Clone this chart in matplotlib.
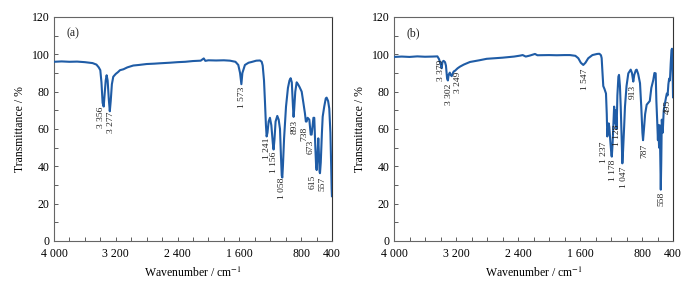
import matplotlib
matplotlib.use("Agg")
import matplotlib.pyplot as plt
from matplotlib.ticker import FixedLocator, FixedFormatter, MultipleLocator

plt.rcParams['font.family'] = ['Liberation Serif', 'DejaVu Serif']
plt.rcParams['mathtext.fontset'] = 'stix'

# --- spectrum (a) ---
wn_a = [4000, 3900, 3800, 3700, 3600, 3500, 3450, 3420, 3400, 3385, 3370, 3356,
        3345, 3330, 3318, 3305, 3290, 3277, 3265, 3250, 3232, 3200, 3170, 3145,
        3100, 3050, 2973, 2900, 2800, 2700, 2627, 2500, 2400, 2300, 2200, 2100,
        2060, 2040, 2000, 1900, 1800, 1721, 1650, 1613, 1590, 1573, 1560, 1527,
        1480, 1440, 1380, 1332, 1310, 1297, 1280, 1268, 1255, 1246, 1235, 1220,
        1203, 1185, 1165, 1156, 1145, 1130, 1108, 1090, 1073, 1060, 1050, 1043,
        1035, 1020, 995, 970, 950, 935, 920, 905, 897, 890, 875, 857, 840, 820,
        792, 770, 750, 738, 728, 715, 693, 675, 663, 650, 640, 629, 615, 605,
        598, 590, 577, 570, 560, 555, 545, 530, 520, 500, 480, 469, 450, 435,
        420, 410, 404, 400]
tr_a = [96.0, 96.2, 96.0, 96.1, 95.8, 95.3, 94.5, 93.0, 91.5, 85.0, 74.0, 72.0,
        78.0, 86.0, 88.8, 86.0, 76.0, 69.5, 75.0, 84.0, 88.0, 89.5, 90.5, 91.5,
        92.0, 93.0, 94.0, 94.3, 94.8, 95.0, 95.2, 95.5, 95.8, 96.0, 96.4, 96.6,
        97.8, 96.5, 96.8, 96.7, 96.8, 96.6, 96.0, 94.3, 90.0, 84.0, 90.0, 94.3,
        95.5, 95.9, 96.6, 96.7, 96.0, 94.0, 86.0, 75.0, 62.0, 56.0, 58.0, 64.0,
        66.0, 62.0, 52.0, 49.0, 54.0, 64.0, 67.0, 65.0, 60.0, 45.0, 35.0, 34.0,
        40.0, 55.0, 72.0, 82.0, 86.0, 87.2, 85.0, 72.0, 66.5, 70.0, 80.0, 85.0,
        84.0, 82.5, 80.0, 74.0, 68.4, 64.0, 64.0, 66.0, 65.0, 57.0, 57.0, 62.0,
        66.0, 66.0, 50.0, 40.0, 38.0, 44.0, 55.0, 48.0, 37.0, 36.3, 42.0, 58.0,
        66.6, 72.0, 76.4, 76.8, 75.0, 71.0, 58.0, 40.0, 28.0, 24.0]

# --- spectrum (b) ---
wn_b = [4000, 3900, 3800, 3700, 3600, 3500, 3440, 3420, 3400, 3385, 3375, 3360,
        3342, 3330, 3315, 3305, 3295, 3280, 3270, 3256, 3245, 3230, 3213, 3180,
        3149, 3100, 3020, 2900, 2804, 2600, 2450, 2374, 2340, 2300, 2250, 2181,
        2150, 2000, 1900, 1800, 1730, 1660, 1622, 1590, 1558, 1530, 1494, 1440,
        1380, 1350, 1330, 1321, 1310, 1300, 1285, 1265, 1255, 1248, 1240, 1230,
        1222, 1210, 1195, 1190, 1180, 1170, 1160, 1150, 1140, 1128, 1118, 1105,
        1097, 1085, 1075, 1065, 1054, 1045, 1030, 1020, 1000, 977, 946, 930, 913,
        900, 880, 869, 850, 826, 810, 795, 787, 775, 760, 740, 720, 700, 680,
        655, 640, 624, 615, 603, 595, 590, 580, 572, 565, 558, 552, 545, 533,
        520, 504, 490, 480, 470, 460, 450, 440, 430, 420, 413, 405, 400]
tr_b = [98.6, 98.8, 98.6, 98.9, 98.7, 98.8, 98.9, 97.5, 95.0, 92.5, 96.0, 96.5,
        95.8, 94.0, 87.0, 86.0, 89.0, 90.2, 89.0, 88.3, 89.5, 90.8, 91.2, 92.5,
        93.4, 94.5, 95.9, 96.8, 97.6, 98.2, 98.8, 99.3, 99.6, 98.8, 99.3, 100.2,
        99.5, 99.6, 99.5, 99.6, 99.6, 99.2, 97.9, 95.5, 94.3, 95.5, 97.9, 99.6,
        100.2, 100.3, 99.5, 98.0, 90.0, 83.0, 81.5, 79.0, 68.0, 56.0, 60.0, 63.0,
        61.0, 54.0, 46.0, 45.2, 52.0, 62.0, 72.0, 63.0, 70.0, 60.0, 78.0, 88.0,
        89.0, 83.0, 72.0, 58.0, 41.6, 48.0, 62.0, 72.0, 83.0, 89.8, 91.8, 90.0, 85.4,
        89.0, 91.5, 91.8, 89.5, 84.5, 72.0, 58.0, 54.0, 60.0, 68.0, 73.0, 74.0,
        75.0, 82.0, 86.2, 90.0, 89.8, 75.0, 63.0, 54.0, 62.0, 50.0, 62.0, 46.0,
        27.5, 42.0, 65.0, 58.0, 70.0, 73.8, 77.0, 79.0, 78.0, 84.0, 87.0, 86.0,
        95.0, 102.3, 103.0, 90.0, 77.0]

# peak labels
peaks_a = ["3 356", "3 277", "1 573", "1 241", "1 156", "1 058", "893", "738",
           "673", "615", "557"]
peaks_b = ["3 379", "3 302", "3 249", "1 547", "1 237", "1 178", "1 128",
           "1 047", "913", "787", "558", "495"]

# where the labels sit (wavenumber, top of text)
pos_a = [(3395, 71.8), (3266, 69.3), (1569, 82.7), (1238, 55.2), (1147, 47.8),
         (1043, 33.8), (879, 64.8), (762, 61.2), (676, 54.1), (648, 35.4),
         (522, 34.4)]
pos_b = [(3394, 97.0), (3287, 84.5), (3178, 90.7), (1536, 92.5), (1287, 53.2),
         (1171, 43.4), (1119, 62.1), (1033, 39.8), (921, 83.6), (775, 52.3),
         (547, 26.4), (461, 75.5)]

xticks = [4000, 3200, 2400, 1600, 800, 400]
xticklabels = ["4 000", "3 200", "2 400", "1 600", "800", "400"]

line_color = '#1f5ca6'
spine_color = '#666666'

fig = plt.figure(figsize=(6.91, 2.85), dpi=100)
ax_a = fig.add_axes([0.0781, 0.1544, 0.4023, 0.786])
ax_b = fig.add_axes([0.5702, 0.1544, 0.4038, 0.786])

for ax, wn, tr, peaks, pos, tag in [(ax_a, wn_a, tr_a, peaks_a, pos_a, "(a)"),
                                    (ax_b, wn_b, tr_b, peaks_b, pos_b, "(b)")]:
    ax.plot(wn, tr, color=line_color, lw=1.5, solid_joinstyle='round', zorder=3)
    ax.set_xlim(4000, 400)
    ax.set_ylim(0, 120)

    ax.xaxis.set_major_locator(FixedLocator(xticks))
    ax.xaxis.set_major_formatter(FixedFormatter(xticklabels))
    ax.xaxis.set_minor_locator(MultipleLocator(200))
    ax.yaxis.set_major_locator(MultipleLocator(20))
    ax.yaxis.set_minor_locator(MultipleLocator(10))
    ax.tick_params(which='both', direction='in', length=3, width=0.6,
                   color='#444444', labelsize=8.5, pad=3)
    ax.tick_params(axis='x', pad=5)

    for spine in ax.spines.values():
        spine.set_color(spine_color)
        spine.set_linewidth(0.8)
    ax.spines['right'].set_color('#333333')

    for txt, (x, y) in zip(peaks, pos):
        ax.text(x, y, txt, rotation=90, ha='center', va='top',
                fontsize=6.8, color='#222222', zorder=4)

    ax.text(0.045, 0.925, tag, transform=ax.transAxes, fontsize=8.5,
            ha='left', va='center', color='#222222')

    ax.set_xlabel(r'Wavenumber / cm$^{-1}$', fontsize=8.5, labelpad=4)
    ax.set_ylabel('Transmittance / %', fontsize=8.5, labelpad=4)

plt.savefig('out.png', dpi=100)
